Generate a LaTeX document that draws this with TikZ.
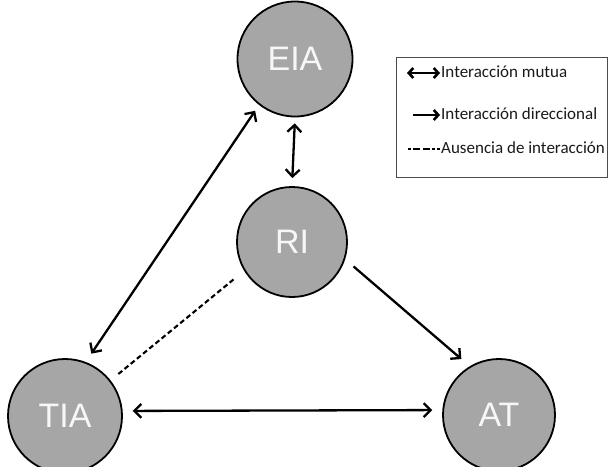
\documentclass[tikz,border=0pt]{standalone}
\usepackage{fontspec}
\setmainfont{Liberation Sans}
\newfontfamily\legfont{Carlito}
\usetikzlibrary{arrows.meta}
\definecolor{circfill}{HTML}{A6A6A6}
\definecolor{circtext}{HTML}{F7F7F7}
\begin{document}
\begin{tikzpicture}[x=1pt,y=-1pt,
  bubble/.style={circle, draw=black, line width=1.8pt, fill=circfill, inner sep=0pt,
    text=circtext, font=\fontsize{34}{34}\selectfont},
  conn/.style={line width=2.3pt, black},
  legtext/.style={anchor=west, inner sep=0pt, font=\legfont\fontsize{17}{18}\selectfont, text=black!90}
]
\useasboundingbox (0,0) rectangle (610,466);
% circles
\node[bubble, minimum size=115pt] (EIA) at (295,59) {EIA};
\node[bubble, minimum size=110pt] (RI) at (292,242) {RI};
\node[bubble, minimum size=114pt] (TIA) at (65,416) {TIA};
\node[bubble, minimum size=112pt] (AT) at (499,415) {AT};
% connectors
\draw[conn, {Straight Barb[length=7pt,width=14pt]}-{Straight Barb[length=7pt,width=14pt]}, shorten <=6pt, shorten >=8pt] (EIA.south) -- (RI.north);
\draw[conn, {Straight Barb[length=7pt,width=14pt]}-{Straight Barb[length=7pt,width=14pt]}, shorten <=10pt, shorten >=7pt] (TIA.69) -- (EIA.232);
\draw[conn, -{Straight Barb[length=7pt,width=14pt]}, shorten <=11pt, shorten >=11pt] (RI.-18) -- (AT.121);
\draw[conn, {Straight Barb[length=7pt,width=14pt]}-{Straight Barb[length=7pt,width=14pt]}, shorten <=10pt, shorten >=10pt] (TIA.5) -- (AT.175);
\draw[conn, line width=2.1pt, dash pattern=on 5pt off 3pt, shorten <=10pt, shorten >=12pt] (TIA.38) -- (RI.211);
% legend
\node[draw=black!70, line width=0.9pt, minimum width=211pt, minimum height=120pt, inner sep=0pt, anchor=north west] (legend) at (396,57) {};
\coordinate (l1a) at (407,73); \coordinate (l1b) at (440,73);
\coordinate (l2a) at (413,115); \coordinate (l2b) at (440,115);
\coordinate (l3a) at (408,149); \coordinate (l3b) at (440,149);
\draw[line width=2.6pt, {Straight Barb[length=4.5pt,width=10pt]}-{Straight Barb[length=4.5pt,width=10pt]}] (l1a) -- (l1b);
\draw[line width=2.6pt, -{Straight Barb[length=4.5pt,width=10pt]}] (l2a) -- (l2b);
\draw[line width=2.6pt, dash pattern=on 2.5pt off 2.5pt on 7pt off 2.5pt on 7pt off 2.5pt] (l3a) -- (l3b);
\node[legtext] (t1) at (441,72) {Interacción mutua};
\node[legtext] (t2) at (441,114) {Interacción direccional};
\node[legtext] (t3) at (441,148) {Ausencia de interacción};
\end{tikzpicture}
\end{document}
